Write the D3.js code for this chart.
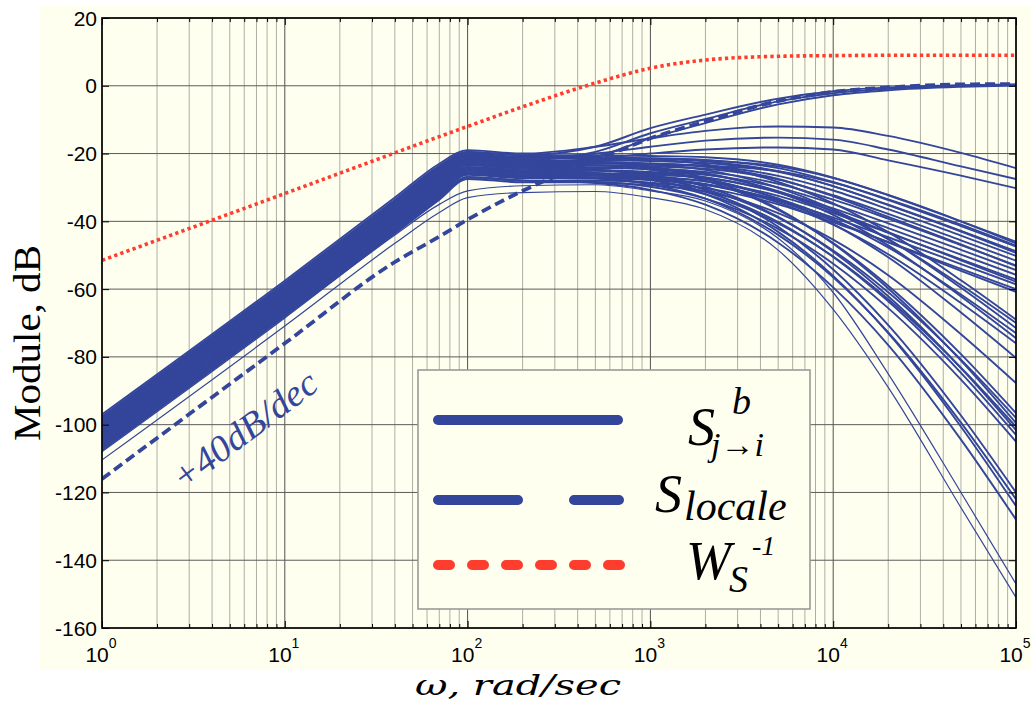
<!DOCTYPE html>
<html><head><meta charset="utf-8">
<script src="https://cdn.jsdelivr.net/npm/d3@7"></script>
<style>body{margin:0;background:#fff}svg{display:block}</style>
</head><body>
<svg id="c" width="1031" height="703"></svg>
<script>
// ---------- DATA ----------
const freqs = [1, 10, 40, 70, 100, 200, 500, 1000, 2000, 5000, 1e4, 2e4, 5e4, 1e5];

const wsInv   = [-51.5, -31.8, -19.8, -15, -12, -6.2, 0.8, 5.2, 7.6, 8.7, 8.9, 9, 9, 9];
const sLocale = [-116, -76, -52, -44.5, -39.5, -31, -22, -15.5, -10.5, -4.5, -1.8, -0.5, 0.4, 0.5];

// S_{j->i}^b : curves that rise to 0 dB
const sRising = [
  [-97.9, -58.4, -33.9, -23.9, -19.5, -20.5, -18, -12.5, -8.5, -3.8, -1.6, -0.5, 0.2, 0.4],
  [-99.1, -59.6, -35.1, -25.1, -21, -22, -19.5, -14, -9.8, -4.6, -2.2, -0.9, 0, 0.3],
  [-101.7, -62.2, -37.7, -27.7, -22.5, -23.5, -21, -15.5, -11, -5.5, -2.8, -1.3, -0.3, 0.1]
];
// curves staying near -20 dB
const sFlat = [
  [-97, -57.5, -33, -23, -19, -20, -18, -15.5, -13.3, -12, -12.3, -14.8, -19.8, -24.3],
  [-98.9, -59.4, -34.9, -24.9, -20.5, -21.5, -20, -18, -16.2, -15.3, -15.9, -18.8, -23.8, -27.5],
  [-100.2, -60.7, -36.2, -26.2, -22, -23, -21.5, -20, -18.8, -18.2, -18.8, -22, -26.5, -30.2]
];
// curves ending between -46 and -61 dB
const sRoll1 = [
  [-97.6, -58.1, -33.6, -23.6, -19.5, -20.5, -20.5, -20.7, -21.1, -23.3, -27.1, -32.3, -40.0, -46.0],
  [-98.6, -59.1, -34.6, -24.6, -20.3, -21.3, -21.3, -21.4, -21.9, -24.3, -28.4, -33.7, -41.4, -47.4],
  [-99.5, -60, -35.5, -25.5, -21, -22, -22, -22.2, -22.8, -25.4, -29.6, -35.1, -42.8, -48.8],
  [-100.4, -60.9, -36.4, -26.4, -21.8, -22.8, -22.8, -23, -23.6, -26.6, -30.9, -36.4, -44.2, -50.2],
  [-101.4, -61.9, -37.4, -27.4, -22.5, -23.5, -23.5, -23.8, -24.5, -27.7, -32.3, -37.8, -45.6, -51.6],
  [-102.3, -62.8, -38.3, -28.3, -23.3, -24.3, -24.3, -24.6, -25.4, -28.9, -33.6, -39.2, -47.0, -53.0],
  [-103.3, -63.8, -39.3, -29.3, -24, -25, -25, -25.4, -26.3, -30.0, -34.9, -40.6, -48.4, -54.4],
  [-104.2, -64.7, -40.2, -30.2, -24.8, -25.8, -25.8, -26.2, -27.2, -31.3, -36.2, -42.0, -49.8, -55.8],
  [-105.1, -65.6, -41.1, -31.1, -25.5, -26.5, -26.5, -27.0, -28.2, -32.5, -37.6, -43.4, -51.2, -57.2],
  [-106.1, -66.6, -42.1, -32.1, -26.3, -27.3, -27.3, -27.8, -29.2, -33.7, -38.9, -44.7, -52.6, -58.6],
  [-107, -67.5, -43, -33, -27, -28, -28, -28.6, -30.2, -35.0, -40.3, -46.1, -54.0, -60.0],
  [-98.1, -58.6, -34.1, -24.1, -20.6, -21.6, -21.2, -21.5, -22.3, -25.2, -29.6, -35.2, -43.0, -49.3],
  [-100.9, -61.4, -36.9, -26.9, -22.1, -23.1, -22.6, -22.9, -23.9, -27.5, -32.6, -38.7, -46.8, -53.2],
  [-103.7, -64.2, -39.7, -29.7, -24.3, -25.3, -25.0, -25.6, -27.0, -31.5, -37.0, -43.2, -51.5, -57.8],
  [-105.6, -66.1, -41.6, -31.6, -25.8, -26.8, -26.5, -27.3, -29.0, -34.0, -39.8, -46.2, -54.6, -60.8],
  [-99.7, -60.2, -35.7, -25.7, -21.3, -22.3, -21.8, -21.6, -22.0, -23.8, -27.2, -32.2, -40.0, -46.5],
  [-102.1, -62.6, -38.1, -28.1, -23, -24, -23.5, -23.3, -23.6, -25.2, -28.6, -33.5, -41.0, -47.2]
];
// curves ending between -69 and -88 dB
const sRoll2 = [
  [-98.3, -58.8, -34.3, -24.3, -20, -21, -21, -21.7, -23.2, -28.4, -34.7, -43.2, -57.4, -69],
  [-102, -62.5, -38, -28, -23, -24, -24, -24.7, -26.1, -31.1, -37.1, -45.3, -58.8, -70],
  [-100.1, -60.6, -36.1, -26.1, -21.5, -22.5, -22.5, -23.2, -24.8, -30.1, -36.5, -45.2, -59.6, -71.5],
  [-104.5, -65, -40.5, -30.5, -25, -26, -26, -26.7, -28.2, -33.2, -39.4, -47.7, -61.6, -73],
  [-101, -61.5, -37, -27, -22.5, -23.5, -23.5, -24.2, -25.8, -31.4, -38.1, -47.1, -62.2, -74.5],
  [-105.8, -66.3, -41.8, -31.8, -26, -27, -27, -27.7, -29.2, -34.5, -41.0, -49.7, -64.1, -76],
  [-103.5, -64, -39.5, -29.5, -24, -25, -25, -25.8, -27.5, -33.5, -40.8, -50.6, -66.9, -80.3],
  [-107.6, -68.1, -43.6, -33.6, -27.5, -28.5, -28.5, -29.4, -31.2, -37.6, -45.4, -55.9, -73.3, -87.7]
];
// curves ending between -96 and -105 dB
const sRoll3 = [
  [-100.8, -61.3, -36.8, -26.8, -22, -23, -23.4, -24.7, -28.0, -36.6, -46.4, -59.0, -79.2, -96.6],
  [-103.9, -64.4, -39.9, -29.9, -24.5, -25.5, -25.9, -27.2, -30.5, -38.9, -48.6, -60.9, -80.8, -98],
  [-99.9, -60.4, -35.9, -25.9, -21, -22, -22.4, -23.8, -27.3, -36.3, -46.6, -59.8, -81.1, -99.5],
  [-106.3, -66.8, -42.3, -32.3, -26, -27, -27.4, -28.7, -32.0, -40.6, -50.4, -63.0, -83.2, -100.6],
  [-102.6, -63.1, -38.6, -28.6, -23.5, -24.5, -24.9, -26.3, -29.8, -38.7, -49.0, -62.1, -83.3, -101.6],
  [-104.9, -65.4, -40.9, -30.9, -25, -26, -26.4, -27.8, -31.3, -40.2, -50.5, -63.6, -84.7, -103],
  [-106.6, -67.1, -42.6, -32.6, -27, -28, -28.4, -29.8, -33.3, -42.2, -52.5, -65.6, -86.7, -105]
];
// curves ending between -120 and -128 dB
const sRoll4 = [
  [-101.8, -62.3, -37.8, -27.8, -23, -24, -24.7, -26.6, -30.8, -41.6, -54.2, -70.6, -97.3, -120],
  [-105.5, -66, -41.5, -31.5, -25.5, -26.5, -27.2, -29.1, -33.3, -44.0, -56.5, -72.8, -99.4, -122],
  [-102.9, -63.4, -38.9, -28.9, -24, -25, -25.7, -27.6, -32.0, -43.1, -56.1, -73.0, -100.6, -124],
  [-107.3, -67.8, -43.3, -33.3, -27, -28, -28.7, -30.7, -35.1, -46.3, -59.5, -76.5, -104.4, -128]
];
// two thin outliers ending near -150 dB
const sRoll5 = [
  [-110.4, -70.9, -46.5, -37.4, -33, -31.5, -31.2, -33, -36.5, -48.5, -66, -89, -124.5, -151],
  [-108, -68.5, -44, -35, -31, -29.5, -29.2, -31, -34, -45, -61, -85, -120, -147]
];

const yTickValues = [-160, -140, -120, -100, -80, -60, -40, -20, 0, 20];
const xDecades = [0, 1, 2, 3, 4, 5];

// ---------- DRAWING ----------
const svg = d3.select("#c");
const M = {l: 102, r: 1016, t: 18, b: 628};
const x = d3.scaleLog().domain([1, 1e5]).range([M.l, M.r]);
const y = d3.scaleLinear().domain([-160, 20]).range([M.b, M.t]);

const BLUE = "#34469b", RED = "#ff3d2e", BG = "#fffff0";
const SANS = "'Liberation Sans', Arial, sans-serif";
const SERIF = "'Liberation Serif', 'Times New Roman', serif";

svg.append("rect").attr("x", 40).attr("y", 6).attr("width", 991).attr("height", 664).attr("fill", BG);

// grid
const allTicks = x.ticks();
const majorX = xDecades.map(d => Math.pow(10, d));
const minorX = allTicks.filter(t => !majorX.some(mj => Math.abs(mj - t) < 1e-9));
const grid = svg.append("g");
grid.selectAll(".gmin").data(minorX).join("line")
  .attr("x1", d => x(d)).attr("x2", d => x(d)).attr("y1", M.t).attr("y2", M.b)
  .attr("stroke", "#aeaea4").attr("stroke-width", 1);
grid.selectAll(".gmaj").data(majorX).join("line")
  .attr("x1", d => x(d)).attr("x2", d => x(d)).attr("y1", M.t).attr("y2", M.b)
  .attr("stroke", "#505050").attr("stroke-width", 1);
grid.selectAll(".gy").data(yTickValues).join("line")
  .attr("x1", M.l).attr("x2", M.r).attr("y1", d => y(d)).attr("y2", d => y(d))
  .attr("stroke", "#5a5a5a").attr("stroke-width", 1);

// curves
svg.append("clipPath").attr("id", "clip").append("rect")
  .attr("x", M.l).attr("y", M.t).attr("width", M.r - M.l).attr("height", M.b - M.t);
const line = d3.line().x(d => x(d[0])).y(d => y(d[1])).curve(d3.curveMonotoneX);
const toPts = vals => vals.map((v, i) => [freqs[i], v]);
const plot = svg.append("g").attr("clip-path", "url(#clip)");

const thick = [].concat(sRoll4, sRoll3, sRoll2, sRoll1, sFlat, sRising);
plot.selectAll(".s").data(thick).join("path")
  .attr("d", d => line(toPts(d))).attr("fill", "none")
  .attr("stroke", BLUE).attr("stroke-width", 1.9);
plot.selectAll(".t").data(sRoll5).join("path")
  .attr("d", d => line(toPts(d))).attr("fill", "none")
  .attr("stroke", BLUE).attr("stroke-width", 1.2);
plot.append("path").attr("d", line(toPts(sLocale))).attr("fill", "none")
  .attr("stroke", BLUE).attr("stroke-width", 3.8).attr("stroke-dasharray", "10 5");
plot.append("path").attr("d", line(toPts(wsInv))).attr("fill", "none")
  .attr("stroke", RED).attr("stroke-width", 3.6).attr("stroke-dasharray", "3.3 3.2");

// axes: inward ticks on all sides
function styleAxis(g) {
  g.select(".domain").remove();
  g.selectAll(".tick line").attr("stroke", "#000").attr("stroke-width", 1);
  g.selectAll(".tick text").remove();
}
svg.append("g").attr("transform", `translate(0,${M.b})`)
  .call(d3.axisBottom(x).tickValues(majorX).tickSize(-7).tickSizeOuter(0)).call(styleAxis);
svg.append("g").attr("transform", `translate(0,${M.b})`)
  .call(d3.axisBottom(x).tickValues(minorX).tickSize(-4).tickSizeOuter(0)).call(styleAxis);
svg.append("g").attr("transform", `translate(0,${M.t})`)
  .call(d3.axisTop(x).tickValues(majorX).tickSize(-7).tickSizeOuter(0)).call(styleAxis);
svg.append("g").attr("transform", `translate(0,${M.t})`)
  .call(d3.axisTop(x).tickValues(minorX).tickSize(-4).tickSizeOuter(0)).call(styleAxis);
svg.append("g").attr("transform", `translate(${M.l},0)`)
  .call(d3.axisLeft(y).tickValues(yTickValues).tickSize(-7).tickSizeOuter(0)).call(styleAxis);
svg.append("g").attr("transform", `translate(${M.r},0)`)
  .call(d3.axisRight(y).tickValues(yTickValues).tickSize(-7).tickSizeOuter(0)).call(styleAxis);

svg.append("rect").attr("x", M.l).attr("y", M.t).attr("width", M.r - M.l).attr("height", M.b - M.t)
  .attr("fill", "none").attr("stroke", "#000").attr("stroke-width", 1.6);

// tick labels
svg.selectAll(".yl").data(yTickValues).join("text")
  .attr("x", 97).attr("y", d => y(d)).attr("dy", "0.36em")
  .attr("text-anchor", "end").attr("font-family", SANS).attr("font-size", 21)
  .text(d => d);
const xl = svg.selectAll(".xl").data(xDecades).join("text")
  .attr("x", d => x(Math.pow(10, d)) - 1).attr("y", 662)
  .attr("text-anchor", "middle").attr("font-family", SANS).attr("font-size", 21);
xl.append("tspan").text("10");
xl.append("tspan").attr("dy", -14).attr("font-size", 14).text(d => d);

// axis titles
svg.append("text").attr("transform", "translate(40,343) rotate(-90)")
  .attr("text-anchor", "middle").attr("font-family", SERIF).attr("font-size", 38)
  .attr("textLength", 196).attr("lengthAdjust", "spacingAndGlyphs")
  .text("Module, dB");
svg.append("text").attr("x", 518).attr("y", 695)
  .attr("text-anchor", "middle").attr("font-family", "'DejaVu Serif', serif").attr("font-style", "italic")
  .attr("font-size", 28).attr("textLength", 206).attr("lengthAdjust", "spacingAndGlyphs")
  .text("ω, rad/sec");

// slope annotation
svg.append("text").attr("transform", "translate(252,440) rotate(-37)")
  .attr("text-anchor", "middle").attr("font-family", SERIF).attr("font-style", "italic")
  .attr("font-size", 37).attr("fill", BLUE)
  .attr("textLength", 172).attr("lengthAdjust", "spacingAndGlyphs")
  .text("+40dB/dec");

// legend
const lg = svg.append("g");
lg.append("rect").attr("x", 418).attr("y", 370).attr("width", 392).attr("height", 239)
  .attr("fill", BG).attr("stroke", "#9a9a9a").attr("stroke-width", 1.6);
lg.append("line").attr("x1", 438).attr("x2", 618).attr("y1", 420).attr("y2", 420)
  .attr("stroke", BLUE).attr("stroke-width", 10).attr("stroke-linecap", "round");
lg.append("line").attr("x1", 438).attr("x2", 619).attr("y1", 500).attr("y2", 500)
  .attr("stroke", BLUE).attr("stroke-width", 10).attr("stroke-linecap", "round")
  .attr("stroke-dasharray", "80 56");
lg.append("line").attr("x1", 438).attr("x2", 620).attr("y1", 565).attr("y2", 565)
  .attr("stroke", RED).attr("stroke-width", 10).attr("stroke-linecap", "round")
  .attr("stroke-dasharray", "12 22");

function itext(px, py, size, str) {
  return lg.append("text").attr("x", px).attr("y", py).attr("font-family", SERIF)
    .attr("font-style", "italic").attr("font-size", size).text(str);
}
itext(688, 445, 54, "S");
itext(732, 414, 38, "b");
itext(711, 456, 34, "j→i");
itext(655, 512, 54, "S");
itext(684, 520, 42, "locale");
itext(686, 579, 54, "W");
itext(729, 592, 38, "S");
itext(752, 555, 28, "-1");
</script>
</body></html>
